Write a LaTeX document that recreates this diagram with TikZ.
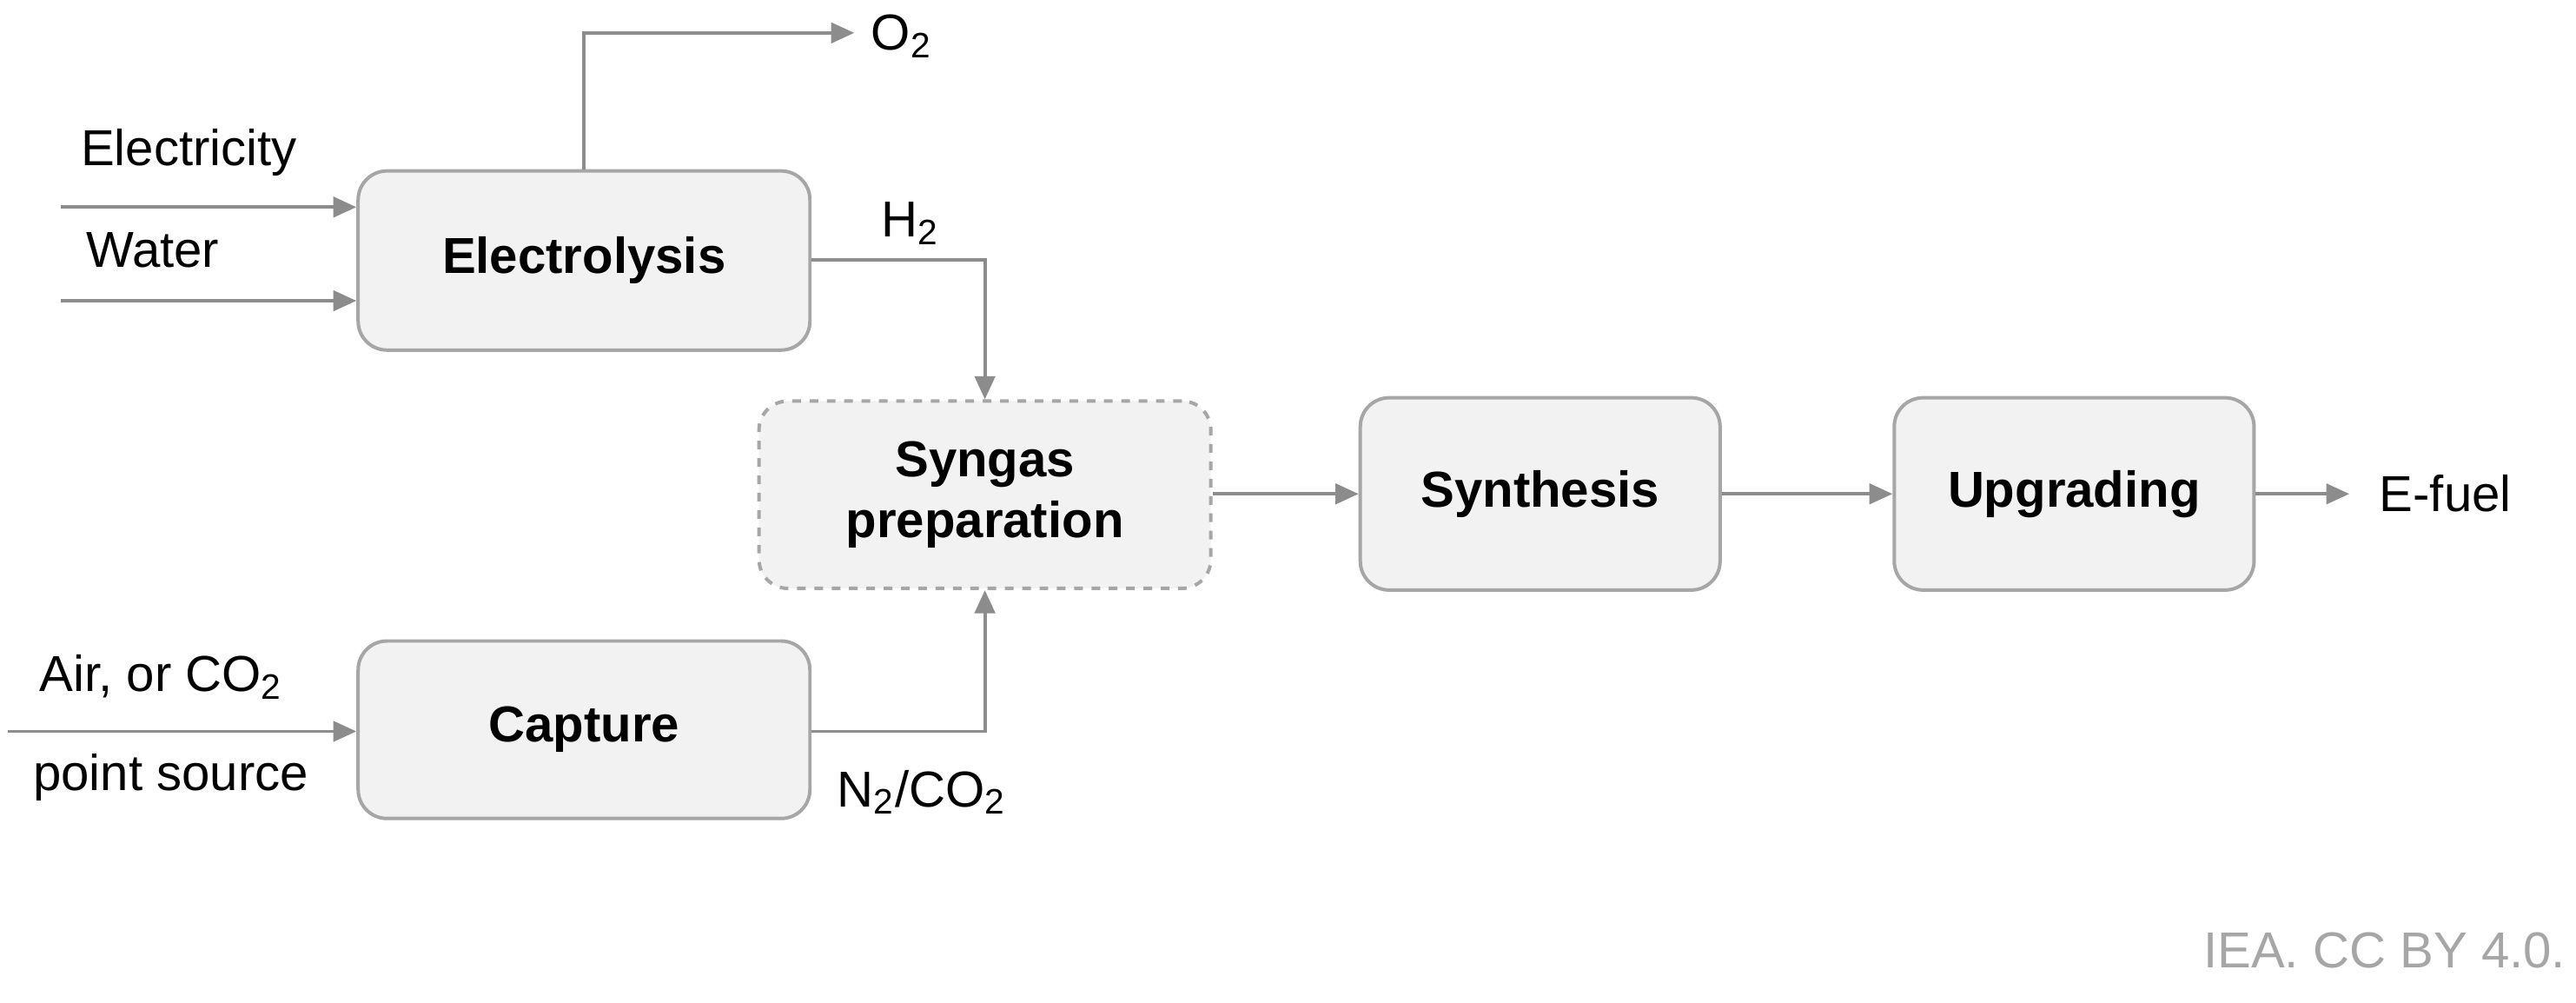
\documentclass[tikz,border=0pt]{standalone}
\usepackage{fontspec}
\setmainfont{Liberation Sans}
\usetikzlibrary{arrows.meta}
\definecolor{bfill}{HTML}{F2F2F2}
\definecolor{bdraw}{HTML}{A6A6A6}
\definecolor{arr}{HTML}{8C8C8C}
\begin{document}
\begin{tikzpicture}[x=0.02cm,y=-0.02cm,
  box/.style={draw=bdraw,fill=bfill,rounded corners=10pt,line width=1.2pt,font=\fontsize{17.5}{21}\selectfont\bfseries,align=center,inner sep=0pt},
  ar/.style={draw=arr,line width=1.2pt,-{Triangle[length=8pt,width=7pt]}},
  lab/.style={font=\fontsize{17.5}{21}\selectfont,inner sep=0pt}]
\useasboundingbox (0,0) rectangle (1568,610);
\node[box,minimum width=275*0.02cm,minimum height=109*0.02cm] (el) at (355.5,158.5) {Electrolysis};
\node[box,dashed,minimum width=275*0.02cm,minimum height=114*0.02cm] (sy) at (599.5,301) {Syngas\\preparation};
\node[box,minimum width=275*0.02cm,minimum height=108*0.02cm] (ca) at (355.5,444) {Capture};
\node[box,minimum width=219*0.02cm,minimum height=117*0.02cm] (sn) at (937.5,300.5) {Synthesis};
\node[box,minimum width=219*0.02cm,minimum height=117*0.02cm] (up) at (1262.5,300.5) {Upgrading};
\coordinate (e1) at (37,126);
\coordinate (w1) at (37,183);
\coordinate (a1) at (5,445);
\coordinate (o2) at (520,20);
\coordinate (ef) at (1430,300.5);
\node[lab] at (115,93) {Electricity};
\node[lab] at (93,152) {Water};
\node[lab,anchor=west] at (530,22) {O\textsubscript{2}};
\node[lab] at (554,136) {H\textsubscript{2}};
\node[lab] at (98,412) {Air, or CO\textsubscript{2}};
\node[lab] at (104,473) {point source};
\node[lab] at (561,482) {N\textsubscript{2}/CO\textsubscript{2}};
\node[lab,anchor=west] at (1448,300) {E-fuel};
\node[lab,text=bdraw,anchor=east] at (1562,578) {IEA. CC BY 4.0.};
\draw[ar] (e1) -- (e1 -| el.west);
\draw[ar] (w1) -- (w1 -| el.west);
\draw[ar] (a1) -- (a1 -| ca.west);
\draw[ar] (el.north) -- (el.north |- o2) -- (o2);
\draw[ar] (el.east |- 0,158) -- (sy.north |- 0,158) -- (sy.north);
\draw[ar] (ca.east |- 0,445) -- (sy.south |- 0,445) -- (sy.south);
\draw[ar] (sy.east |- sn.west) -- (sn.west);
\draw[ar] (sn.east) -- (up.west);
\draw[ar] (up.east) -- (ef);
\end{tikzpicture}
\end{document}
